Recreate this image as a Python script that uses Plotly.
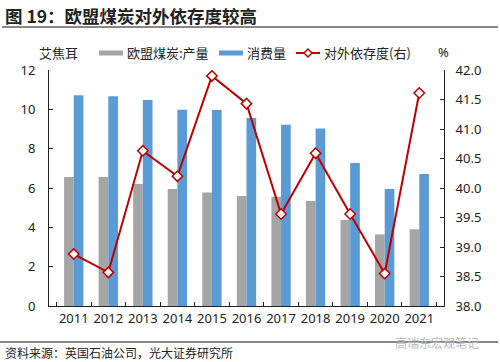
import plotly.graph_objects as go

years = ["2011", "2012", "2013", "2014", "2015", "2016", "2017", "2018", "2019", "2020", "2021"]
production = [6.56, 6.56, 6.2, 5.95, 5.77, 5.59, 5.56, 5.34, 4.37, 3.64, 3.9]
consumption = [10.72, 10.67, 10.47, 9.98, 9.96, 9.56, 9.22, 9.02, 7.27, 5.95, 6.71]
dependence = [38.88, 38.57, 40.63, 40.2, 41.9, 41.43, 39.56, 40.59, 39.56, 38.55, 41.61]

CJK = "Noto Sans CJK SC"
NUM = "Noto Sans"
GRAY = "#A5A5A5"
BLUE = "#5B9BD5"
RED = "#C00000"

# plot area in page pixels
L, R, T, B = 49, 444, 70, 306

def px_x(p):
    return (p - L) / float(R - L)

def px_y(p):
    return (B - p) / float(B - T)

fig = go.Figure()
fig.add_trace(go.Bar(x=years, y=production, name="欧盟煤炭:产量", marker_color=GRAY,
                     marker_line_width=0, yaxis="y"))
fig.add_trace(go.Bar(x=years, y=consumption, name="消费量", marker_color=BLUE,
                     marker_line_width=0, yaxis="y"))
fig.add_trace(go.Scatter(x=years, y=dependence, name="对外依存度(右)", mode="lines+markers",
                         line=dict(color=RED, width=2),
                         marker=dict(symbol="diamond", size=8, color="white",
                                     line=dict(color=RED, width=1.5)),
                         yaxis="y2"))

axis_common = dict(showline=True, linecolor="#222", linewidth=1, ticks="inside",
                   ticklen=4, tickcolor="#222", showgrid=False, zeroline=False,
                   tickfont=dict(family=NUM, size=13, color="#222"))

fig.update_layout(
    width=500, height=362,
    margin=dict(l=L, r=500 - R, t=T, b=362 - B, autoexpand=False),
    paper_bgcolor="white", plot_bgcolor="white",
    showlegend=False,
    barmode="group", bargap=0.44, bargroupgap=0,
    xaxis=dict(type="category", tickson="boundaries", tickangle=0, **axis_common),
    yaxis=dict(range=[0, 12], dtick=2, ticklabelstandoff=10, **axis_common),
    yaxis2=dict(range=[38, 42], dtick=0.5, tickformat=".1f", overlaying="y", side="right",
                ticklabelstandoff=8, **axis_common),
)

# title
fig.add_annotation(xref="paper", yref="paper", x=px_x(3), y=px_y(16), xanchor="left", yanchor="middle",
                   text="<b>图 19：欧盟煤炭对外依存度较高</b>", showarrow=False,
                   font=dict(family=CJK, size=17.5, color="#222"))

# horizontal rules (as filled annotation boxes)
for yy, x0 in ((27, 2), (342, 0)):
    fig.add_annotation(xref="paper", yref="paper", x=px_x(x0), y=px_y(yy), xanchor="left",
                       yanchor="middle", text=" ", showarrow=False, width=498 - x0, height=2,
                       bgcolor="#888888", borderpad=0, borderwidth=0, font=dict(size=1))

fig.add_annotation(xref="paper", yref="paper", x=px_x(3), y=px_y(352), xanchor="left", yanchor="middle",
                   text="资料来源：英国石油公司，光大证券研究所", showarrow=False,
                   font=dict(family=CJK, size=12, color="#222"))
fig.add_annotation(xref="paper", yref="paper", x=px_x(437), y=px_y(342), xanchor="center", yanchor="middle",
                   text="高瑞东宏观笔记", showarrow=False,
                   font=dict(family=CJK, size=12, color="#bbbbbb"))

# axis titles
fig.add_annotation(xref="paper", yref="paper", x=px_x(58), y=px_y(53), xanchor="center", yanchor="middle",
                   text="艾焦耳", showarrow=False, font=dict(family=CJK, size=13, color="#222"))
fig.add_annotation(xref="paper", yref="paper", x=px_x(443), y=px_y(52), xanchor="center", yanchor="middle",
                   text="%", showarrow=False, font=dict(family=NUM, size=13, color="#222"))

# manual legend
ly = 53
fig.add_shape(type="rect", xref="paper", yref="paper", x0=px_x(99), x1=px_x(123),
              y0=px_y(ly + 2.5), y1=px_y(ly - 2.5), fillcolor=GRAY, line_width=0)
fig.add_annotation(xref="paper", yref="paper", x=px_x(125), y=px_y(ly), xanchor="left", yanchor="middle",
                   text="欧盟煤炭:产量", showarrow=False, font=dict(family=CJK, size=13, color="#222"))
fig.add_shape(type="rect", xref="paper", yref="paper", x0=px_x(219), x1=px_x(243),
              y0=px_y(ly + 2.5), y1=px_y(ly - 2.5), fillcolor=BLUE, line_width=0)
fig.add_annotation(xref="paper", yref="paper", x=px_x(245), y=px_y(ly), xanchor="left", yanchor="middle",
                   text="消费量", showarrow=False, font=dict(family=CJK, size=13, color="#222"))
fig.add_shape(type="line", xref="paper", yref="paper", x0=px_x(296), x1=px_x(320),
              y0=px_y(ly), y1=px_y(ly), line=dict(color=RED, width=2))
fig.add_shape(type="path", xref="paper", yref="paper",
              path="M {a},{b} L {c},{d} L {a},{e} L {f},{d} Z".format(
                  a=px_x(308), b=px_y(ly - 4), c=px_x(312), d=px_y(ly), e=px_y(ly + 4), f=px_x(304)),
              fillcolor="white", line=dict(color=RED, width=1.5))
fig.add_annotation(xref="paper", yref="paper", x=px_x(322), y=px_y(ly), xanchor="left", yanchor="middle",
                   text="对外依存度(右)", showarrow=False, font=dict(family=CJK, size=13, color="#222"))

fig.write_html("out.html", post_script="document.body.style.margin='0';",
               config={"displayModeBar": False})
